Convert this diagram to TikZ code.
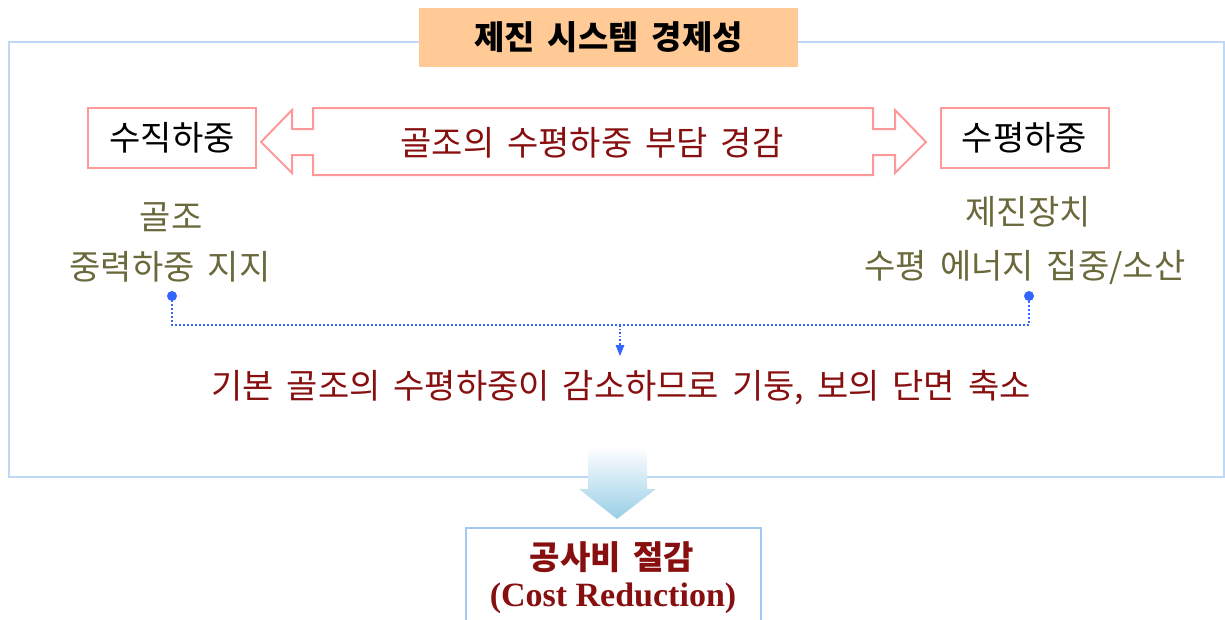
\documentclass[tikz,border=0pt]{standalone}
\usepackage{fontspec}
\setmainfont{Noto Sans CJK KR}[WordSpace=1.7]
\newfontfamily\latinserif{Liberation Serif}
\usetikzlibrary{arrows.meta}
\definecolor{outerblue}{RGB}{190,216,245}
\definecolor{titlefill}{RGB}{255,202,150}
\definecolor{pinkline}{RGB}{255,153,153}
\definecolor{darkred}{RGB}{135,15,15}
\definecolor{olive}{RGB}{105,105,60}
\definecolor{dotblue}{RGB}{51,102,255}
\definecolor{arrowblue}{RGB}{152,206,230}
\definecolor{boxblue}{RGB}{160,200,240}
\tikzset{
  txt/.style={inner sep=0pt, font=\fontsize{34}{38}\selectfont},
  loadbox/.style={draw=pinkline, line width=2pt, minimum width=168, minimum height=60, inner sep=0pt, font=\fontsize{34}{38}\selectfont, text=black},
  sidetxt/.style={txt, text=olive},
  redtxt/.style={txt, text=darkred},
  dotline/.style={draw=dotblue, line width=2pt, dotted},
}
\begin{document}
\begin{tikzpicture}[x=1pt,y=-1pt]
\useasboundingbox (0,0) rectangle (1225,619);
\clip (0,0) rectangle (1225,619);
% outer frame
\draw[outerblue, line width=1.5pt] (9,42) rectangle (1224,477);
% title
\node[fill=titlefill, minimum width=379, minimum height=59, inner sep=0pt,
      font=\fontsize{33}{38}\selectfont\bfseries] (title) at (608.5,37.5) {제진 시스템 경제성};
% load boxes
\node[loadbox] (vert) at (172,138) {수직하중};
\node[loadbox] (horz) at (1024.5,138) {수평하중};
% double arrow
\draw[pinkline, line width=2pt, line join=miter]
  (261,142) -- (292,110) -- (292,129) -- (313,129) -- (313,108) -- (873,108)
  -- (873,129) -- (895,129) -- (895,110) -- (926,142) -- (895,173) -- (895,155)
  -- (873,155) -- (873,175) -- (313,175) -- (313,155) -- (292,155) -- (292,173) -- cycle;
\node[redtxt] (mid) at (592,143) {골조의 수평하중 부담 경감};
% side texts
\node[sidetxt] (l1) at (171,217) {골조};
\node[sidetxt] (l2) at (170,267) {중력하중 지지};
\node[sidetxt] (r1) at (1028,212) {제진장치};
\node[sidetxt] (r2) at (1025,267) {수평 에너지 집중/소산};
% dots and dotted connector
\fill[dotblue] (172,296) circle (5) coordinate (dl);
\fill[dotblue] (1029,296) circle (5) coordinate (dr);
\coordinate (cl) at (172,325);
\coordinate (cr) at (1029,325);
\coordinate (cm) at (620,325);
\coordinate (ce) at (620,356);
\draw[dotline] (dl) -- (cl) -- (cr) -- (dr);
\draw[dotblue, line width=1.6pt, dotted] (cm) -- (620,346);
\fill[dotblue] (615.5,345) -- (624.5,345) -- (ce) -- cycle;
% result text
\node[redtxt] (res) at (621,388) {기본 골조의 수평하중이 감소하므로 기둥, 보의 단면 축소};
% big gradient arrow
\shade[top color=white, bottom color=arrowblue, shading angle=0]
  (588,447) -- (647,447) -- (647,489) -- (656,489) -- (617,519) -- (579,489) -- (588,489) -- cycle;
% bottom box
\node[draw=boxblue, line width=1.5pt, minimum width=295, minimum height=110, inner sep=0pt] (cost) at (613.5,583) {};
\node[font=\fontsize{33}{38}\selectfont\bfseries, text=darkred, inner sep=0pt] (c1) at (612,557) {공사비 절감};
\node[font=\fontsize{34}{38}\latinserif\bfseries, text=darkred, inner sep=0pt] (c2) at (613,598) {(Cost Reduction)};
\end{tikzpicture}
\end{document}
